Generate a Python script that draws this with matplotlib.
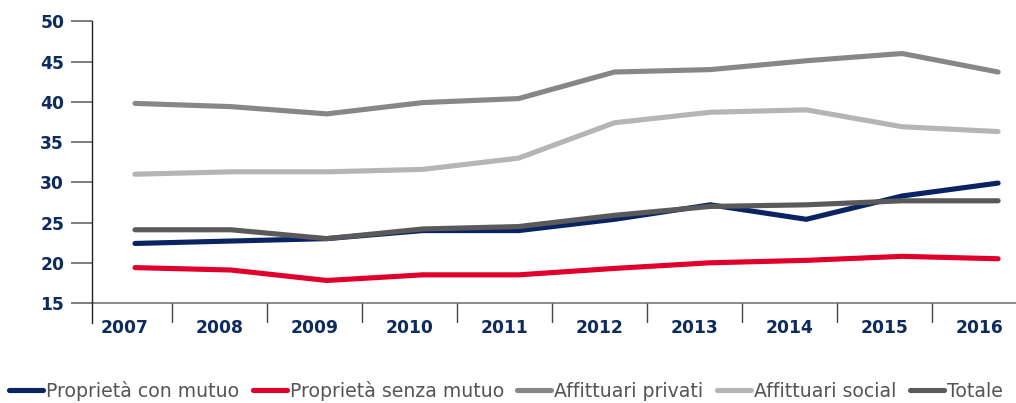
import matplotlib
matplotlib.use("Agg")
import matplotlib.pyplot as plt
from matplotlib.lines import Line2D

years = ["2007", "2008", "2009", "2010", "2011", "2012", "2013", "2014", "2015", "2016"]
con_mutuo = [22.4, 22.7, 23.0, 24.0, 24.0, 25.4, 27.2, 25.4, 28.3, 29.9]
senza_mutuo = [19.4, 19.1, 17.8, 18.5, 18.5, 19.3, 20.0, 20.3, 20.8, 20.5]
privati = [39.8, 39.4, 38.5, 39.9, 40.4, 43.7, 44.0, 45.1, 46.0, 43.7]
social = [31.0, 31.3, 31.3, 31.6, 33.0, 37.4, 38.7, 39.0, 36.9, 36.3]
totale = [24.1, 24.1, 23.0, 24.2, 24.5, 25.9, 27.0, 27.2, 27.7, 27.7]
series_names = ["Proprietà con mutuo", "Proprietà senza mutuo", "Affittuari privati",
                "Affittuari social", "Totale"]
y_ticks = [15, 20, 25, 30, 35, 40, 45, 50]

colors = ["#0a2463", "#e0002b", "#878787", "#b5b5b5", "#5a5a5a"]
navy = "#0d2b5e"
font = ["DejaVu Sans"]

fig = plt.figure(figsize=(10.16, 4.03), dpi=100)
ax = fig.add_axes([92 / 1016, 1 - 323 / 403, 1 - 92 / 1016, (323 - 21.3) / 403])

x = list(range(len(years)))
all_series = [con_mutuo, senza_mutuo, privati, social, totale]
for vals, c, name in zip(all_series, colors, series_names):
    ax.plot(x, vals, color=c, lw=3.7, solid_capstyle="round", solid_joinstyle="round",
            label=name, zorder=3)

ymin = 15 - 20 / 8.057
ax.set_ylim(ymin, 50)
ax.set_xlim(-0.4484, 9.1866)

for s in ["top", "right", "bottom"]:
    ax.spines[s].set_visible(False)
ax.spines["left"].set_color("#222222")
ax.spines["left"].set_linewidth(1.0)

ax.set_yticks(y_ticks)
ax.set_yticklabels([str(v) for v in y_ticks], fontweight="bold", color=navy,
                   fontsize=12.3, family=font)
ax.tick_params(axis="y", length=15, width=1.2, color="#666666", pad=5)

# x axis line at 15 and category boundary ticks
ax.axhline(15, color="#777777", lw=1.2, zorder=2)
bounds = [0.383 + 0.9906 * k for k in range(9)]
ax.vlines(bounds, ymin, 15, color="#444444", lw=1.0)
centers = [bounds[0] - 0.9906 / 2] + [b + 0.9906 / 2 for b in bounds]
ax.set_xticks([])
for c, yl in zip(centers, years):
    ax.text(c, 15 - 25 / 8.057, yl, ha="center", va="center", fontweight="bold",
            color=navy, fontsize=12.3, family=font)

handles = [Line2D([0], [0], color=c, lw=3.7, solid_capstyle="round") for c in colors]
fig.legend(handles, series_names, loc="center left", bbox_to_anchor=(0.009, 1 - 391 / 403),
           ncol=5, frameon=False, handlelength=1.8, handletextpad=0.15, columnspacing=0.72,
           borderaxespad=0, borderpad=0,
           prop={"family": font, "size": 13.6}, labelcolor="#555555")

fig.savefig("out.png", dpi=100)
